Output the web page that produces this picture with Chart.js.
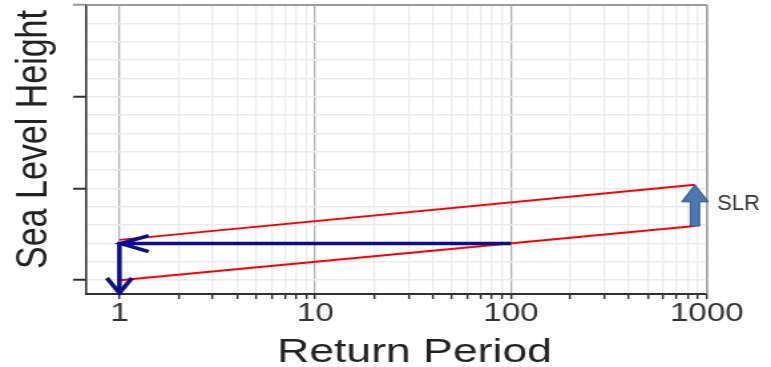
<!DOCTYPE html>
<html>
<head>
<meta charset="utf-8">
<script src="https://cdn.jsdelivr.net/npm/chart.js@4.4.1/dist/chart.umd.min.js"></script>
<style>
  html, body { margin: 0; padding: 0; background: #fff; overflow: hidden; }
  /* the figure is drawn 580px wide and widened to 771px */
  #stage { width: 580px; height: 367px; transform: scaleX(1.329310); transform-origin: 0 0; }
</style>
</head>
<body>
<div id="stage"><canvas id="chart"></canvas></div>
<script>
const STRETCH = 771 / 580;
const FONT = '"Liberation Sans", Arial, Helvetica, sans-serif';

// Return periods (years) at the two ends of each level curve
const curvePeriods = [1, 870];
// Present-day sea level curve
const presentLevel = [0, 0.59];
// Curve after sea level rise
const futureLevel = [0.44, 1.04];

// Lookup path: today's 100-year level, across to the raised curve, down to the axis
const lookupPeriods = [100, 1, 1];
const lookupLevels = [0.40, 0.40, -0.15];

// Axis ticks
const periodLabels = [1, 10, 100, 1000];
const periodTicks = [1, 10, 100]
  .flatMap(d => [1, 2, 3, 4, 5, 6, 7, 8, 9].map(k => k * d))
  .concat([1000]);
const levelTicks = [0, 1, 2, 3];

const xTitle = 'Return Period';
const yTitle = 'Sea Level Height';
const slrLabel = 'SLR';

const RED = '#ff0000';
const NAVY = '#0c0c8c';

const toPoints = (xs, ys) => xs.map((x, i) => ({ x, y: ys[i] }));

const decorations = {
  id: 'decorations',
  beforeDatasetsDraw(chart) {
    const { ctx, chartArea: a } = chart;
    ctx.save();
    ctx.strokeStyle = '#9c9c9c';
    ctx.lineWidth = 2;
    ctx.beginPath();
    ctx.moveTo(a.left, a.top);
    ctx.lineTo(a.right, a.top);
    ctx.stroke();
    ctx.lineWidth = 1.4;
    ctx.beginPath();
    ctx.moveTo(a.right, a.top);
    ctx.lineTo(a.right, a.bottom);
    ctx.stroke();
    ctx.restore();
  },
  afterDatasetsDraw(chart) {
    const { ctx, chartArea: a, scales: { x, y } } = chart;
    ctx.save();

    // open arrowheads on the lookup path
    ctx.strokeStyle = NAVY;
    ctx.lineWidth = 3.5;
    ctx.lineJoin = 'miter';
    const n = lookupPeriods.length;
    const lx = x.getPixelForValue(lookupPeriods[1]);
    const ly = y.getPixelForValue(lookupLevels[1]);
    ctx.beginPath();
    ctx.moveTo(lx + 22, ly - 8);
    ctx.lineTo(lx + 1, ly);
    ctx.lineTo(lx + 22, ly + 8);
    ctx.stroke();
    const dx = x.getPixelForValue(lookupPeriods[n - 1]);
    const dy = y.getPixelForValue(lookupLevels[n - 1]);
    ctx.beginPath();
    ctx.moveTo(dx - 9.4, dy - 16);
    ctx.lineTo(dx, dy - 1);
    ctx.lineTo(dx + 9.4, dy - 16);
    ctx.stroke();

    // block arrow showing the rise between the two curves
    const last = curvePeriods.length - 1;
    const cx = x.getPixelForValue(curvePeriods[last]);
    const yBot = y.getPixelForValue(presentLevel[last]);
    const yTop = y.getPixelForValue(futureLevel[last]);
    const shaft = 3.4, head = 10, headLen = 17;
    ctx.beginPath();
    ctx.moveTo(cx - shaft, yBot);
    ctx.lineTo(cx - shaft, yTop + headLen);
    ctx.lineTo(cx - head, yTop + headLen);
    ctx.lineTo(cx, yTop);
    ctx.lineTo(cx + head, yTop + headLen);
    ctx.lineTo(cx + shaft, yTop + headLen);
    ctx.lineTo(cx + shaft, yBot);
    ctx.closePath();
    ctx.fillStyle = '#4a78b0';
    ctx.fill();
    ctx.strokeStyle = '#2e5585';
    ctx.lineWidth = 1;
    ctx.stroke();

    // label beside the arrow, kept at its natural width
    ctx.translate(a.right + 7.5, (yTop + yBot) / 2 + 5);
    ctx.scale(1 / STRETCH, 1);
    ctx.fillStyle = '#333';
    ctx.font = '22px ' + FONT;
    ctx.textAlign = 'left';
    ctx.textBaseline = 'alphabetic';
    ctx.fillText(slrLabel, 0, 0);
    ctx.restore();
  },
  afterDraw(chart) {
    const { ctx, chartArea: a } = chart;
    ctx.save();
    ctx.fillStyle = '#222';
    ctx.textAlign = 'center';
    ctx.textBaseline = 'alphabetic';
    ctx.font = '33.5px ' + FONT;
    ctx.fillText(xTitle, (a.left + a.right) / 2 + 13.5, 362);
    ctx.translate(34.6, (a.top + a.bottom) / 2 - 10);
    ctx.rotate(-Math.PI / 2);
    ctx.font = '34px ' + FONT;
    ctx.fillText(yTitle, 0, 0);
    ctx.restore();
  }
};

new Chart(document.getElementById('chart'), {
  type: 'scatter',
  data: {
    datasets: [
      {
        data: toPoints(lookupPeriods, lookupLevels),
        showLine: true, borderColor: NAVY, borderWidth: 3.5,
        pointRadius: 0, clip: false
      },
      {
        data: toPoints(curvePeriods, futureLevel),
        showLine: true, borderColor: RED, borderWidth: 2, pointRadius: 0
      },
      {
        data: toPoints(curvePeriods, presentLevel),
        showLine: true, borderColor: RED, borderWidth: 2, pointRadius: 0
      }
    ]
  },
  options: {
    responsive: true,
    maintainAspectRatio: false,
    animation: false,
    events: [],
    layout: { padding: { left: 0, right: 48.1, top: 5, bottom: 0 } },
    plugins: { legend: { display: false }, tooltip: { enabled: false } },
    scales: {
      x: {
        type: 'logarithmic',
        min: 0.675,
        max: 1003,
        afterBuildTicks: s => { s.ticks = periodTicks.map(v => ({ value: v })); },
        afterFit: s => { s.height = 73; },
        border: { display: true, color: '#333', width: 2 },
        grid: {
          color: c => periodLabels.includes(c.tick && c.tick.value) ? '#b2b2b2' : '#ebebeb',
          lineWidth: 1.3,
          drawTicks: true,
          tickLength: 5,
          tickWidth: 1.5,
          tickColor: '#333'
        },
        ticks: {
          autoSkip: false,
          maxRotation: 0,
          minRotation: 0,
          padding: 0,
          color: '#333',
          font: { family: FONT, size: 25 },
          callback: v => periodLabels.includes(v) ? String(v) : ''
        }
      },
      y: {
        min: -0.15,
        max: 3,
        afterBuildTicks: s => {
          const t = [];
          for (let i = 0; i <= 15; i++) t.push({ value: i * 2 / 10 });
          s.ticks = t;
        },
        afterFit: s => { s.width = 64.7; },
        border: { display: true, color: '#333', width: 1.6 },
        grid: {
          color: '#ebebeb',
          lineWidth: 1.5,
          drawTicks: true,
          tickLength: 9.8,
          tickWidth: 2,
          tickColor: c => {
            const v = c.tick ? c.tick.value : NaN;
            if (!levelTicks.includes(v)) return 'rgba(0,0,0,0)';
            return v === levelTicks[levelTicks.length - 1] ? '#9c9c9c' : '#333';
          }
        },
        ticks: { display: false }
      }
    }
  },
  plugins: [decorations]
});
</script>
</body>
</html>
